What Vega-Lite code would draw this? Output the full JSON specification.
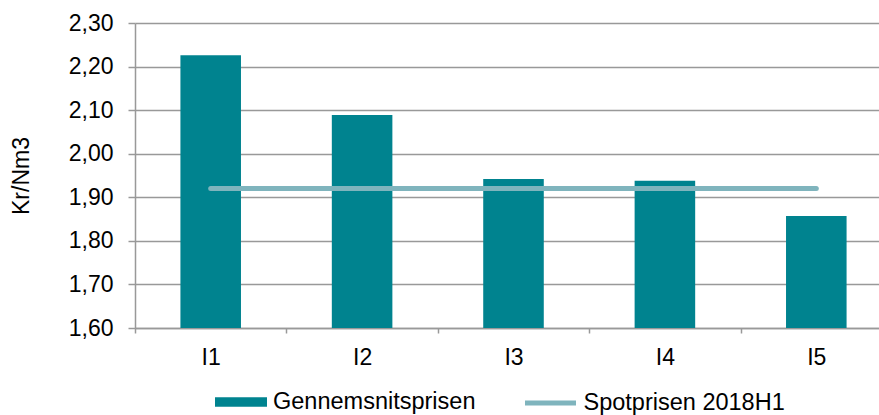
{
  "$schema": "https://vega.github.io/schema/vega-lite/v6.json",
  "width": 744,
  "height": 305,
  "autosize": "none",
  "padding": {"left": 135, "top": 23, "right": 0, "bottom": 87},
  "background": "white",
  "config": {
    "font": "Liberation Sans",
    "view": {"stroke": null},
    "axis": {
      "labelFont": "Liberation Sans",
      "titleFont": "Liberation Sans",
      "labelColor": "#000000",
      "titleColor": "#000000",
      "labelFontSize": 23,
      "titleFontSize": 23,
      "titleFontWeight": "normal",
      "domainColor": "#999999",
      "tickColor": "#999999",
      "gridColor": "#999999",
      "domainWidth": 1.5,
      "tickWidth": 1.5,
      "gridWidth": 1.5
    },
    "legend": {
      "labelFont": "Liberation Sans",
      "labelFontSize": 23.5,
      "labelColor": "#000000",
      "labelLimit": 400,
      "padding": 0
    }
  },
  "datasets": {
    "bars": [
      {"kategori": "I1", "pris": 2.226, "serie": "Gennemsnitsprisen"},
      {"kategori": "I2", "pris": 2.089, "serie": "Gennemsnitsprisen"},
      {"kategori": "I3", "pris": 1.942, "serie": "Gennemsnitsprisen"},
      {"kategori": "I4", "pris": 1.938, "serie": "Gennemsnitsprisen"},
      {"kategori": "I5", "pris": 1.857, "serie": "Gennemsnitsprisen"}
    ],
    "spot": [
      {"kategori": "I1", "pris": 1.92, "serie": "Spotprisen 2018H1"},
      {"kategori": "I2", "pris": 1.92, "serie": "Spotprisen 2018H1"},
      {"kategori": "I3", "pris": 1.92, "serie": "Spotprisen 2018H1"},
      {"kategori": "I4", "pris": 1.92, "serie": "Spotprisen 2018H1"},
      {"kategori": "I5", "pris": 1.92, "serie": "Spotprisen 2018H1"}
    ]
  },
  "layer": [
    {
      "data": {"name": "bars"},
      "mark": {"type": "bar", "width": {"band": 0.4}},
      "encoding": {
        "x": {
          "field": "kategori",
          "type": "nominal",
          "sort": null,
          "scale": {"paddingInner": 0, "paddingOuter": 0, "range": [0, 757]},
          "axis": {
            "title": null,
            "labelAngle": 0,
            "grid": false,
            "tickBand": "extent",
            "tickSize": 5,
            "labelPadding": 13
          }
        },
        "y": {
          "field": "pris",
          "type": "quantitative",
          "scale": {"domain": [1.6, 2.3], "zero": false, "nice": false},
          "axis": {
            "title": "Kr/Nm3",
            "values": [1.6, 1.7, 1.8, 1.9, 2.0, 2.1, 2.2, 2.3],
            "labelExpr": "replace(format(datum.value, '.2f'), '.', ',')",
            "tickSize": 7,
            "labelPadding": 15,
            "titlePadding": 35,
            "grid": true
          }
        },
        "y2": {"datum": 1.6},
        "fill": {
          "field": "serie",
          "type": "nominal",
          "scale": {"range": ["#00838F"]},
          "legend": {
            "title": null,
            "orient": "none",
            "legendX": 80,
            "legendY": 353,
            "direction": "horizontal",
            "symbolType": "M-1,-0.18H1V0.18H-1Z",
            "symbolSize": 2704,
            "symbolStrokeWidth": 0,
            "labelOffset": 6
          }
        }
      }
    },
    {
      "data": {"name": "spot"},
      "mark": {"type": "line", "strokeWidth": 5, "strokeCap": "round"},
      "encoding": {
        "x": {"field": "kategori", "type": "nominal", "sort": null},
        "y": {"field": "pris", "type": "quantitative"},
        "stroke": {
          "field": "serie",
          "type": "nominal",
          "scale": {"range": ["#7FB4BD"]},
          "legend": {
            "title": null,
            "orient": "none",
            "legendX": 387.5,
            "legendY": 352,
            "direction": "horizontal",
            "symbolType": "stroke",
            "symbolSize": 2601,
            "symbolStrokeWidth": 5,
            "labelOffset": 5
          }
        }
      }
    }
  ]
}
